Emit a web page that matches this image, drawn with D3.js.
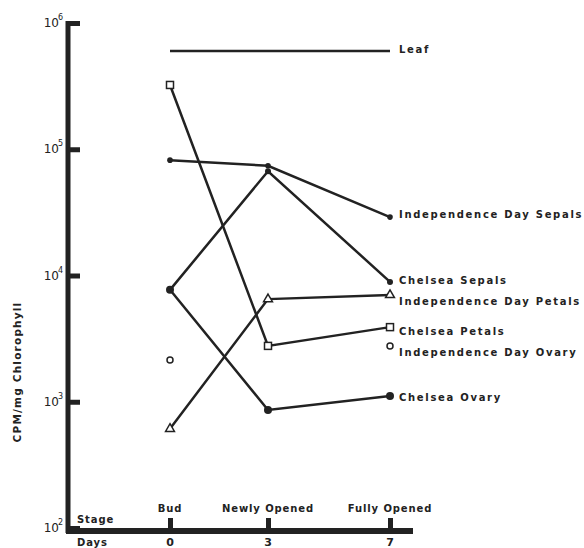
<!DOCTYPE html>
<html>
<head>
<meta charset="utf-8">
<script src="https://cdn.jsdelivr.net/npm/d3@7"></script>
<style>
  body { margin: 0; background: #fff; }
  svg text { font-family: "DejaVu Sans", sans-serif; font-weight: bold; fill: #222; }
</style>
</head>
<body>
<svg id="canvas" width="584" height="548"></svg>
<script>
// days after bud stage, and the stage names under them
const days = [0, 3, 7]
const stages = ["Bud", "Newly Opened", "Fully Opened"]
const yTicks = [1e2, 1e3, 1e4, 1e5, 1e6]

// CPM / mg chlorophyll for each series, one value per day (null = no point)
const leaf = [6.0e5, 6.0e5, 6.0e5]
const idSepals = [8.2e4, 7.4e4, 2.9e4]
const chSepals = [7.7e3, 6.7e4, 8.9e3]
const idPetals = [610, 6.5e3, 7.0e3]
const chPetals = [3.23e5, 2.77e3, 3.9e3]
const idOvary = [2.14e3, null, 2.77e3]
const chOvary = [7.7e3, 860, 1.11e3]

const series = [
  {name: "Leaf", values: leaf, marker: "none", line: true, nudge: -2},
  {name: "Independence Day Sepals", values: idSepals, marker: "smalldot", line: true, nudge: -3},
  {name: "Chelsea Sepals", values: chSepals, marker: "dot", line: true, nudge: -2},
  {name: "Independence Day Petals", values: idPetals, marker: "triangle", line: true, nudge: 6},
  {name: "Chelsea Petals", values: chPetals, marker: "square", line: true, nudge: 4},
  {name: "Independence Day Ovary", values: idOvary, marker: "circle", line: false, nudge: 6},
  {name: "Chelsea Ovary", values: chOvary, marker: "bigdot", line: true, nudge: 1}
]

const svg = d3.select("#canvas")
const ink = "#222"

const x = d3.scaleLinear().domain([0, 3, 7]).range([170, 268, 390])
const y = d3.scaleLog().domain([1e2, 1e6]).range([528, 23])
const axisX = 68
const axisY = y(1e2) + 3

// y axis
const yAxis = svg.append("g")
  .attr("transform", `translate(${axisX},0)`)
  .call(d3.axisRight(y).tickValues(yTicks).tickSize(12).tickSizeOuter(0).tickFormat(""))
yAxis.select(".domain").attr("stroke", ink).attr("stroke-width", 5)
  .attr("d", `M0,${y(1e6) - 2}V${axisY + 2}`)
yAxis.selectAll(".tick line").attr("stroke", ink).attr("stroke-width", 5)

yTicks.forEach(v => {
  const t = svg.append("text").attr("x", axisX - 5).attr("y", y(v) + 4)
    .attr("text-anchor", "end").style("font-weight", "normal").style("font-size", "12px")
  t.append("tspan").text("10")
  t.append("tspan").attr("dy", -7).attr("dx", -1).style("font-size", "8px").text(Math.log10(v))
})

// x axis
const xAxis = svg.append("g")
  .attr("transform", `translate(0,${axisY})`)
  .call(d3.axisTop(x).tickValues(days).tickSize(13).tickSizeOuter(0).tickFormat(""))
xAxis.select(".domain").attr("stroke", ink).attr("stroke-width", 6)
  .attr("d", `M${axisX - 2},0H413`)
xAxis.selectAll(".tick line").attr("stroke", ink).attr("stroke-width", 5)

svg.selectAll(".stage").data(stages).enter().append("text")
  .attr("x", (d, i) => x(days[i])).attr("y", axisY - 19)
  .attr("text-anchor", "middle").style("font-size", "10px").style("letter-spacing", "0.9px")
  .text(d => d)
svg.selectAll(".day").data(days).enter().append("text")
  .attr("x", d => x(d)).attr("y", axisY + 15)
  .attr("text-anchor", "middle").style("font-size", "11px")
  .text(d => d)
svg.append("text").attr("x", 77).attr("y", axisY - 8).style("font-size", "10px")
  .style("letter-spacing", "0.9px").text("Stage")
svg.append("text").attr("x", 77).attr("y", axisY + 15).style("font-size", "10px")
  .style("letter-spacing", "0.9px").text("Days")

// y label
svg.append("text")
  .attr("transform", `translate(21,372) rotate(-90)`)
  .attr("text-anchor", "middle").style("font-size", "10.5px").style("letter-spacing", "1.2px")
  .text("CPM/mg Chlorophyll")

// lines
const line = d3.line().defined(d => d[1] != null).x(d => x(d[0])).y(d => y(d[1]))
series.filter(s => s.line).forEach(s => {
  svg.append("path")
    .datum(days.map((d, i) => [d, s.values[i]]))
    .attr("d", line).attr("fill", "none").attr("stroke", ink).attr("stroke-width", 2.5)
})

// markers
series.forEach(s => {
  days.forEach((d, i) => {
    const v = s.values[i]
    if (v == null) return
    const cx = x(d), cy = y(v)
    if (s.marker === "smalldot") svg.append("circle").attr("cx", cx).attr("cy", cy).attr("r", 2.8).attr("fill", ink)
    if (s.marker === "dot") svg.append("circle").attr("cx", cx).attr("cy", cy).attr("r", 3).attr("fill", ink)
    if (s.marker === "bigdot") svg.append("circle").attr("cx", cx).attr("cy", cy).attr("r", 4).attr("fill", ink)
    if (s.marker === "circle") svg.append("circle").attr("cx", cx).attr("cy", cy).attr("r", 3)
      .attr("fill", "#fff").attr("stroke", ink).attr("stroke-width", 1.5)
    if (s.marker === "square") svg.append("rect").attr("x", cx - 3.5).attr("y", cy - 3.5)
      .attr("width", 7).attr("height", 7).attr("fill", "#fff").attr("stroke", ink).attr("stroke-width", 1.5)
    if (s.marker === "triangle") svg.append("path")
      .attr("d", d3.symbol().type(d3.symbolTriangle).size(34)()).attr("transform", `translate(${cx},${cy})`)
      .attr("fill", "#fff").attr("stroke", ink).attr("stroke-width", 1.5)
  })
})

// series labels
series.forEach(s => {
  svg.append("text")
    .attr("x", x(7) + 9).attr("y", y(s.values[2]) + s.nudge + 4)
    .style("font-size", "10px").style("letter-spacing", "1.7px")
    .text(s.name)
})
</script>
</body>
</html>
